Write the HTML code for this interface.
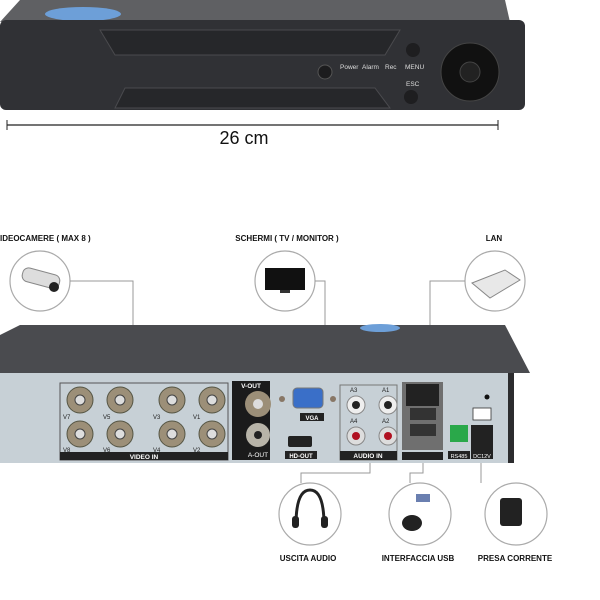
<!DOCTYPE html><html><head><style>body{margin:0;background:#fff}svg{display:block}text{font-family:"Liberation Sans",sans-serif}</style></head><body>
<svg width="600" height="600" viewBox="0 0 600 600" xmlns="http://www.w3.org/2000/svg">
<!-- front DVR -->
<polygon points="20,0 505,0 510,22 0,22" fill="#5f6063"/>
<ellipse cx="83" cy="14" rx="38" ry="7" fill="#6d9fd8"/>
<rect x="0" y="20" width="525" height="90" rx="6" fill="#303135"/>
<polygon points="100,30 400,30 385,55 115,55" fill="#26272a" stroke="#4a4a4e" stroke-width="1"/>
<polygon points="125,88 375,88 390,108 115,108" fill="#26272a" stroke="#4a4a4e" stroke-width="1"/>
<circle cx="325" cy="72" r="7" fill="#1c1c1e" stroke="#555"/>
<text x="340" y="69" font-size="6.5" fill="#ddd">Power</text><text x="362" y="69" font-size="6.5" fill="#ddd">Alarm</text><text x="385" y="69" font-size="6.5" fill="#ddd">Rec</text>
<text x="405" y="69" font-size="6.5" fill="#ddd">MENU</text><text x="406" y="86" font-size="6.5" fill="#ddd">ESC</text>
<circle cx="413" cy="50" r="7" fill="#1e1e20"/><circle cx="411" cy="97" r="7" fill="#1e1e20"/>
<circle cx="470" cy="72" r="29" fill="#111" stroke="#444"/><circle cx="470" cy="72" r="10" fill="#222" stroke="#444"/>
<line x1="7" y1="125" x2="498" y2="125" stroke="#222" stroke-width="1.2"/><line x1="7" y1="120" x2="7" y2="130" stroke="#222"/><line x1="498" y1="120" x2="498" y2="130" stroke="#222"/>
<text x="244" y="144" font-size="18" fill="#111" text-anchor="middle">26 cm</text>
<!-- labels -->
<g font-weight="bold" font-size="8" fill="#111">
<text x="0" y="241">IDEOCAMERE ( MAX 8 )</text>
<text x="287" y="241" text-anchor="middle">SCHERMI ( TV / MONITOR )</text>
<text x="494" y="241" text-anchor="middle">LAN</text>
<text x="308" y="561" text-anchor="middle">USCITA AUDIO</text>
<text x="418" y="561" text-anchor="middle">INTERFACCIA USB</text>
<text x="515" y="561" text-anchor="middle">PRESA CORRENTE</text></g>
<g fill="#fff" stroke="#aaa" stroke-width="1.2"><circle cx="40" cy="281" r="30"/><circle cx="285" cy="281" r="30"/><circle cx="495" cy="281" r="30"/><circle cx="310" cy="514" r="31"/><circle cx="420" cy="514" r="31"/><circle cx="516" cy="514" r="31"/></g>
<g fill="none" stroke="#999" stroke-width="1"><polyline points="70,281 133,281 133,383"/><polyline points="315,281 325,281 325,383"/><polyline points="465,281 430,281 430,380"/>
<polyline points="370,463 370,473 301,473 301,483"/><polyline points="423,463 423,473 410,473 410,483"/><polyline points="481,463 481,483"/></g>
<!-- icons -->
<rect x="22" y="271" width="38" height="14" rx="6" fill="#ddd" stroke="#888" transform="rotate(15 40 278)"/><circle cx="54" cy="287" r="5" fill="#222"/>
<rect x="265" y="268" width="40" height="22" fill="#111"/><rect x="280" y="290" width="10" height="3" fill="#333"/>
<polygon points="472,283 505,270 520,280 490,298" fill="#e8e8e8" stroke="#888"/>
<path d="M296 525 Q296 490 310 490 Q324 490 324 525" fill="none" stroke="#222" stroke-width="3"/><rect x="292" y="516" width="7" height="12" rx="3" fill="#222"/><rect x="321" y="516" width="7" height="12" rx="3" fill="#222"/>
<ellipse cx="412" cy="523" rx="10" ry="8" fill="#222"/><rect x="416" y="494" width="14" height="8" fill="#6a7fb0"/>
<rect x="500" y="498" width="22" height="28" rx="3" fill="#222"/>
<!-- back DVR -->
<polygon points="0,335 20,325 505,325 530,373 0,373" fill="#4a4b4f"/>
<ellipse cx="380" cy="328" rx="20" ry="4" fill="#6d9fd8"/>
<rect x="0" y="373" width="512" height="90" fill="#c7d0d6"/>
<rect x="508" y="373" width="6" height="90" fill="#2c2c2e"/>
<rect x="60" y="383" width="168" height="77" fill="none" stroke="#555" stroke-width="1"/><rect x="60" y="452" width="168" height="8" fill="#222"/>
<text x="144" y="459" font-size="6.5" fill="#fff" text-anchor="middle" font-weight="bold">VIDEO IN</text>
<g fill="#9c8f78" stroke="#554" stroke-width="1"><circle cx="80" cy="400" r="13"/><circle cx="120" cy="400" r="13"/><circle cx="172" cy="400" r="13"/><circle cx="212" cy="400" r="13"/><circle cx="80" cy="434" r="13"/><circle cx="120" cy="434" r="13"/><circle cx="172" cy="434" r="13"/><circle cx="212" cy="434" r="13"/></g>
<g fill="#ddd" stroke="#444"><circle cx="80" cy="400" r="5"/><circle cx="120" cy="400" r="5"/><circle cx="172" cy="400" r="5"/><circle cx="212" cy="400" r="5"/><circle cx="80" cy="434" r="5"/><circle cx="120" cy="434" r="5"/><circle cx="172" cy="434" r="5"/><circle cx="212" cy="434" r="5"/></g>
<g font-size="6" fill="#222"><text x="63" y="419">V7</text><text x="103" y="419">V5</text><text x="153" y="419">V3</text><text x="193" y="419">V1</text><text x="63" y="452">V8</text><text x="103" y="452">V6</text><text x="153" y="452">V4</text><text x="193" y="452">V2</text></g>
<rect x="232" y="381" width="38" height="79" fill="#1b1b1b"/>
<text x="251" y="388" font-size="6.5" fill="#fff" text-anchor="middle" font-weight="bold">V-OUT</text><text x="258" y="457" font-size="6.5" fill="#fff" text-anchor="middle">A-OUT</text>
<circle cx="258" cy="404" r="13" fill="#9c8f78"/><circle cx="258" cy="404" r="5" fill="#ddd"/><circle cx="258" cy="435" r="12" fill="#b8b4a8"/><circle cx="258" cy="435" r="4" fill="#222"/>
<rect x="293" y="388" width="30" height="20" rx="4" fill="#3a6fc8" stroke="#777"/>
<circle cx="282" cy="399" r="3" fill="#876"/><circle cx="333" cy="399" r="3" fill="#876"/>
<rect x="300" y="413" width="24" height="8" fill="#222"/><text x="312" y="420" font-size="6" fill="#fff" text-anchor="middle" font-weight="bold">VGA</text>
<rect x="288" y="436" width="24" height="11" rx="2" fill="#222"/>
<rect x="285" y="451" width="32" height="8" fill="#222"/><text x="301" y="458" font-size="6" fill="#fff" text-anchor="middle" font-weight="bold">HD-OUT</text>
<rect x="340" y="385" width="57" height="75" fill="none" stroke="#777"/><rect x="340" y="451" width="57" height="9" fill="#222"/>
<text x="368" y="458" font-size="6.5" fill="#fff" text-anchor="middle" font-weight="bold">AUDIO IN</text>
<g font-size="6" fill="#222"><text x="350" y="392">A3</text><text x="382" y="392">A1</text><text x="350" y="423">A4</text><text x="382" y="423">A2</text></g>
<circle cx="356" cy="405" r="9" fill="#eee" stroke="#888"/><circle cx="356" cy="405" r="4" fill="#222"/><circle cx="388" cy="405" r="9" fill="#eee" stroke="#888"/><circle cx="388" cy="405" r="4" fill="#222"/>
<circle cx="356" cy="436" r="9" fill="#ddd" stroke="#888"/><circle cx="356" cy="436" r="4" fill="#b01020"/><circle cx="388" cy="436" r="9" fill="#ddd" stroke="#888"/><circle cx="388" cy="436" r="4" fill="#b01020"/>
<rect x="402" y="382" width="41" height="68" fill="#6f6f6f"/>
<rect x="406" y="384" width="33" height="22" fill="#222"/><rect x="410" y="408" width="26" height="12" fill="#333"/><rect x="410" y="424" width="26" height="12" fill="#333"/>
<rect x="402" y="452" width="41" height="8" fill="#222"/>
<rect x="450" y="425" width="18" height="17" fill="#2aa84a"/>
<rect x="448" y="451" width="22" height="8" fill="#222"/><text x="459" y="458" font-size="5.5" fill="#fff" text-anchor="middle">RS485</text>
<rect x="471" y="425" width="22" height="26" fill="#222"/>
<rect x="471" y="451" width="22" height="8" fill="#222"/><text x="482" y="458" font-size="5.5" fill="#fff" text-anchor="middle">DC12V</text>
<rect x="473" y="408" width="18" height="12" fill="#fff" stroke="#333" stroke-width="0.8"/>
<circle cx="487" cy="397" r="2.5" fill="#111"/>
</svg></body></html>
